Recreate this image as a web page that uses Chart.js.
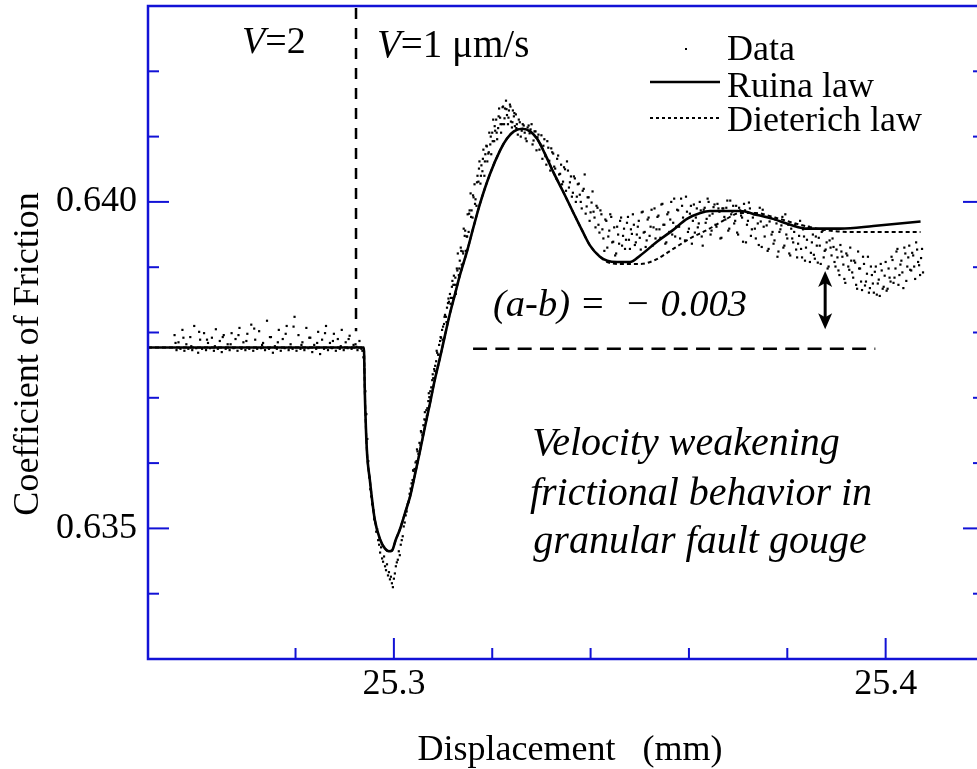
<!DOCTYPE html>
<html><head><meta charset="utf-8">
<script src="https://cdn.jsdelivr.net/npm/chart.js@4.4.1/dist/chart.umd.min.js"></script>
<style>html,body{margin:0;padding:0;background:#fff;overflow:hidden;}canvas{display:block;}</style>
</head><body>
<canvas id="c" width="990" height="769" style="width:990px;height:769px"></canvas>
<script>
// ---------- data ----------
const xLabeledTicks = [25.3, 25.4];
const yLabeledTicks = [0.640, 0.635];

const ruinaLaw = [[25.2500,0.63777],[25.2939,0.63777],[25.2941,0.63706],[25.2945,0.63621],[25.2951,0.63575],[25.2961,0.63514],[25.2972,0.63483],[25.2982,0.63469],[25.2990,0.63465],[25.2996,0.63466],[25.3004,0.63483],[25.3012,0.63498],[25.3022,0.63522],[25.3033,0.63549],[25.3043,0.63583],[25.3053,0.63618],[25.3063,0.63655],[25.3073,0.63690],[25.3083,0.63727],[25.3094,0.63762],[25.3104,0.63796],[25.3114,0.63829],[25.3124,0.63858],[25.3134,0.63887],[25.3149,0.63925],[25.3161,0.63959],[25.3175,0.63997],[25.3195,0.64042],[25.3216,0.64079],[25.3230,0.64097],[25.3244,0.64108],[25.3261,0.64112],[25.3277,0.64108],[25.3291,0.64097],[25.3307,0.64074],[25.3324,0.64046],[25.3344,0.64016],[25.3364,0.63985],[25.3383,0.63956],[25.3399,0.63933],[25.3419,0.63916],[25.3434,0.63910],[25.3454,0.63908],[25.3480,0.63908],[25.3501,0.63918],[25.3535,0.63939],[25.3566,0.63956],[25.3596,0.63974],[25.3623,0.63983],[25.3643,0.63986],[25.3704,0.63986],[25.3739,0.63980],[25.3771,0.63974],[25.3806,0.63965],[25.3841,0.63959],[25.3908,0.63959],[25.3975,0.63963],[25.4071,0.63970]];

const dieterichLaw = [[25.2500,0.63777],[25.2939,0.63777],[25.2941,0.63706],[25.2945,0.63621],[25.2951,0.63575],[25.2961,0.63514],[25.2972,0.63483],[25.2982,0.63469],[25.2990,0.63465],[25.2996,0.63466],[25.3004,0.63483],[25.3012,0.63498],[25.3022,0.63522],[25.3033,0.63549],[25.3043,0.63583],[25.3053,0.63618],[25.3063,0.63655],[25.3073,0.63690],[25.3083,0.63727],[25.3094,0.63762],[25.3104,0.63796],[25.3114,0.63829],[25.3124,0.63858],[25.3134,0.63887],[25.3149,0.63925],[25.3161,0.63959],[25.3175,0.63997],[25.3195,0.64042],[25.3216,0.64079],[25.3230,0.64097],[25.3244,0.64108],[25.3261,0.64112],[25.3277,0.64108],[25.3291,0.64097],[25.3307,0.64074],[25.3324,0.64046],[25.3344,0.64016],[25.3364,0.63985],[25.3383,0.63956],[25.3399,0.63933],[25.3419,0.63916],[25.3434,0.63908],[25.3460,0.63905],[25.3501,0.63905],[25.3531,0.63911],[25.3568,0.63928],[25.3602,0.63944],[25.3637,0.63957],[25.3674,0.63973],[25.3704,0.63983],[25.3735,0.63983],[25.3775,0.63976],[25.3826,0.63965],[25.3877,0.63957],[25.3928,0.63954],[25.4071,0.63954]];

const measuredData = [
[25.2554,0.63796],[25.2558,0.63773],[25.2562,0.63785],[25.2566,0.63775],[25.2570,0.63804],[25.2574,0.63772],[25.2578,0.63782],[25.2582,0.63775],[25.2586,0.63793],[25.2590,0.63773],
[25.2594,0.63810],[25.2598,0.63776],[25.2602,0.63769],[25.2606,0.63789],[25.2610,0.63775],[25.2614,0.63799],[25.2618,0.63773],[25.2622,0.63784],[25.2626,0.63776],[25.2630,0.63792],
[25.2634,0.63772],[25.2638,0.63805],[25.2642,0.63775],[25.2646,0.63787],[25.2650,0.63770],[25.2654,0.63796],[25.2658,0.63775],[25.2662,0.63782],[25.2666,0.63773],[25.2670,0.63799],
[25.2674,0.63776],[25.2678,0.63790],[25.2682,0.63772],[25.2686,0.63807],[25.2690,0.63775],[25.2694,0.63785],[25.2698,0.63773],[25.2702,0.63798],[25.2706,0.63775],[25.2710,0.63812],
[25.2714,0.63772],[25.2718,0.63789],[25.2722,0.63775],[25.2726,0.63802],[25.2730,0.63776],[25.2734,0.63784],[25.2738,0.63773],[25.2742,0.63818],[25.2746,0.63775],[25.2750,0.63793],
[25.2754,0.63769],[25.2758,0.63779],[25.2762,0.63775],[25.2766,0.63804],[25.2770,0.63772],[25.2774,0.63790],[25.2778,0.63776],[25.2782,0.63810],[25.2786,0.63773],[25.2790,0.63782],
[25.2794,0.63775],[25.2798,0.63824],[25.2802,0.63772],[25.2806,0.63796],[25.2810,0.63775],[25.2814,0.63785],[25.2818,0.63773],[25.2822,0.63807],[25.2826,0.63776],[25.2830,0.63792],
[25.2834,0.63770],[25.2838,0.63781],[25.2842,0.63775],[25.2846,0.63801],[25.2850,0.63767],[25.2854,0.63789],[25.2858,0.63775],[25.2862,0.63810],[25.2866,0.63773],[25.2870,0.63784],
[25.2874,0.63776],[25.2878,0.63798],[25.2882,0.63772],[25.2886,0.63790],[25.2890,0.63775],[25.2894,0.63804],[25.2898,0.63773],[25.2902,0.63785],[25.2906,0.63776],[25.2910,0.63795],
[25.2914,0.63775],[25.2918,0.63781],[25.2922,0.63782],[25.2926,0.63773],[25.2930,0.63787],[25.2934,0.63775],
[25.2556,0.63784],[25.2572,0.63792],[25.2588,0.63779],[25.2604,0.63801],[25.2620,0.63789],[25.2636,0.63779],[25.2652,0.63793],[25.2668,0.63782],[25.2684,0.63796],[25.2700,0.63787],
[25.2716,0.63806],[25.2732,0.63781],[25.2748,0.63793],[25.2764,0.63785],[25.2780,0.63798],[25.2796,0.63809],[25.2812,0.63781],[25.2828,0.63792],[25.2844,0.63784],[25.2860,0.63799],
[25.2876,0.63787],[25.2892,0.63779],[25.2908,0.63790],[25.2924,0.63778],
[25.2936,0.63772],[25.2938,0.63762],[25.2940,0.63744],[25.2942,0.63710],[25.2944,0.63675],[25.2946,0.63637],[25.2948,0.63603],[25.2950,0.63578],[25.2952,0.63560],[25.2954,0.63549],
[25.2956,0.63537],[25.2958,0.63528],[25.2960,0.63514],[25.2962,0.63509],[25.2964,0.63495],[25.2966,0.63499],[25.2968,0.63482],[25.2970,0.63475],[25.2972,0.63463],[25.2974,0.63471],
[25.2976,0.63454],[25.2978,0.63449],[25.2980,0.63457],[25.2982,0.63442],[25.2984,0.63436],[25.2986,0.63445],[25.2988,0.63428],[25.2990,0.63433],[25.2992,0.63422],[25.2994,0.63426],
[25.2996,0.63416],[25.2998,0.63410],[25.3000,0.63423],[25.3002,0.63431],[25.3004,0.63442],[25.3006,0.63448],[25.3008,0.63452],[25.3010,0.63465],[25.3012,0.63459],[25.3014,0.63475],
[25.3016,0.63482],[25.3018,0.63488],[25.3020,0.63503],[25.3022,0.63509],[25.3024,0.63520],[25.3026,0.63526],[25.3028,0.63537],[25.3030,0.63541],[25.3032,0.63553],[25.3034,0.63561],
[25.3036,0.63569],[25.3038,0.63574],[25.3040,0.63588],[25.3042,0.63591],[25.3044,0.63601],[25.3046,0.63603],[25.3048,0.63618],[25.3050,0.63614],[25.3052,0.63631],[25.3054,0.63628],
[25.3056,0.63647],[25.3058,0.63643],[25.3060,0.63658],[25.3062,0.63667],[25.3064,0.63666],[25.3066,0.63681],[25.3068,0.63684],[25.3070,0.63695],[25.3072,0.63701],[25.3074,0.63710],
[25.3076,0.63716],[25.3078,0.63727],[25.3080,0.63730],[25.3082,0.63744],[25.3084,0.63749],[25.3086,0.63756],[25.3088,0.63769],[25.3090,0.63766],[25.3092,0.63781],[25.3094,0.63787],
[25.3096,0.63792],[25.3098,0.63804],[25.3100,0.63809],[25.3102,0.63813],[25.3104,0.63827],[25.3106,0.63824],[25.3108,0.63838],[25.3110,0.63845],[25.3112,0.63847],[25.3114,0.63859],
[25.3116,0.63853],[25.3118,0.63870],
[25.3035,0.63560],[25.3039,0.63589],[25.3043,0.63585],[25.3047,0.63621],[25.3051,0.63614],[25.3055,0.63649],[25.3059,0.63641],[25.3063,0.63678],[25.3067,0.63672],[25.3071,0.63707],
[25.3075,0.63700],[25.3079,0.63736],[25.3083,0.63741],[25.3087,0.63772],[25.3091,0.63766],[25.3095,0.63793],[25.3099,0.63789],[25.3103,0.63824],[25.3107,0.63816],[25.3111,0.63852],
[25.3115,0.63844],[25.3119,0.63879],
[25.3120,0.63853],[25.3122,0.63887],[25.3124,0.63873],[25.3126,0.63859],[25.3128,0.63898],[25.3130,0.63921],[25.3132,0.63888],[25.3134,0.63910],
[25.3136,0.63930],[25.3138,0.63904],[25.3140,0.63924],[25.3142,0.63959],[25.3144,0.63948],[25.3146,0.63925],[25.3148,0.63947],[25.3150,0.63981],[25.3152,0.63954],[25.3154,0.63987],
[25.3156,0.64013],[25.3158,0.63987],[25.3160,0.63976],[25.3162,0.64007],[25.3164,0.64027],[25.3166,0.64004],[25.3168,0.63994],[25.3170,0.64040],[25.3172,0.64031],[25.3174,0.64062],
[25.3176,0.64028],[25.3178,0.64056],[25.3180,0.64047],[25.3182,0.64080],[25.3184,0.64040],[25.3186,0.64073],[25.3188,0.64086],[25.3190,0.64062],[25.3192,0.64074],[25.3194,0.64106],
[25.3196,0.64088],[25.3198,0.64073],[25.3200,0.64106],[25.3202,0.64126],[25.3204,0.64093],[25.3206,0.64109],[25.3208,0.64126],[25.3210,0.64096],[25.3212,0.64113],[25.3214,0.64143],
[25.3216,0.64129],[25.3218,0.64106],[25.3220,0.64119],[25.3222,0.64146],[25.3224,0.64119],[25.3226,0.64143],[25.3228,0.64155],[25.3230,0.64133],[25.3232,0.64119],[25.3234,0.64140],
[25.3236,0.64149],[25.3238,0.64123],[25.3240,0.64114],[25.3242,0.64140],[25.3244,0.64131],[25.3246,0.64116],[25.3248,0.64134],[25.3250,0.64119],
[25.3121,0.63873],[25.3125,0.63884],[25.3129,0.63895],[25.3133,0.63898],[25.3137,0.63925],[25.3141,0.63921],[25.3145,0.63956],[25.3149,0.63947],[25.3153,0.63982],[25.3157,0.63977],
[25.3161,0.64010],[25.3165,0.63997],[25.3169,0.64030],[25.3173,0.64051],[25.3177,0.64040],[25.3181,0.64066],[25.3185,0.64062],[25.3189,0.64085],[25.3193,0.64076],[25.3197,0.64100],
[25.3201,0.64093],[25.3205,0.64116],[25.3209,0.64106],[25.3213,0.64131],[25.3217,0.64119],[25.3221,0.64145],[25.3225,0.64128],[25.3229,0.64142],[25.3233,0.64129],[25.3237,0.64146],
[25.3241,0.64122],[25.3245,0.64136],[25.3249,0.64113],
[25.3252,0.64103],[25.3256,0.64122],[25.3260,0.64109],[25.3264,0.64117],[25.3268,0.64097],[25.3272,0.64114],[25.3276,0.64105],[25.3280,0.64119],[25.3284,0.64094],[25.3288,0.64108],
[25.3292,0.64099],[25.3296,0.64080],[25.3300,0.64102],[25.3304,0.64086],[25.3308,0.64070],[25.3312,0.64093],[25.3316,0.64063],[25.3320,0.64082],[25.3324,0.64074],[25.3328,0.64051],
[25.3332,0.64066],[25.3336,0.64042],[25.3340,0.64057],[25.3344,0.64031],[25.3348,0.64050],[25.3352,0.64062],[25.3356,0.64022],[25.3360,0.64039],[25.3364,0.64014],[25.3368,0.64036],
[25.3372,0.64008],[25.3376,0.64028],[25.3380,0.64000],[25.3384,0.64017],[25.3388,0.64042],[25.3392,0.63993],[25.3396,0.64007],[25.3400,0.63984],[25.3404,0.64016],[25.3408,0.63976],
[25.3412,0.63994],[25.3416,0.63965],[25.3420,0.63987],[25.3424,0.63958],[25.3428,0.63925],[25.3432,0.63971],[25.3436,0.63947],[25.3440,0.63981],[25.3444,0.63938],[25.3448,0.63961],
[25.3452,0.63921],[25.3456,0.63950],[25.3460,0.63971],[25.3464,0.63933],[25.3468,0.63959],[25.3472,0.63942],[25.3476,0.63977],[25.3480,0.63928],[25.3484,0.63951],[25.3488,0.63965],
[25.3492,0.63938],[25.3496,0.63962],[25.3500,0.63945],[25.3504,0.63984],[25.3508,0.63953],[25.3512,0.63931],[25.3516,0.63973],[25.3520,0.63948],[25.3524,0.63988],[25.3528,0.63961],
[25.3532,0.63944],[25.3536,0.63977],[25.3540,0.63958],[25.3544,0.63996],[25.3548,0.63965],[25.3552,0.63936],[25.3556,0.63981],[25.3560,0.63954],[25.3564,0.64000],[25.3568,0.63968],
[25.3572,0.63947],[25.3576,0.63988],[25.3580,0.63962],[25.3584,0.64005],[25.3588,0.63976],[25.3592,0.63941],[25.3596,0.63985],[25.3600,0.63959],[25.3604,0.63994],[25.3608,0.63971],
[25.3612,0.63953],[25.3616,0.63990],[25.3620,0.63967],[25.3624,0.63987],[25.3628,0.63933],[25.3632,0.63991],[25.3636,0.63974],[25.3640,0.64000],[25.3644,0.63950],[25.3648,0.63982],
[25.3652,0.63996],[25.3656,0.63962],[25.3660,0.63990],[25.3664,0.63944],[25.3668,0.63990],[25.3672,0.63977],[25.3676,0.63991],[25.3680,0.63956],[25.3684,0.64002],[25.3688,0.63985],
[25.3692,0.63967],[25.3696,0.63994],[25.3700,0.63950],[25.3704,0.63987],[25.3708,0.63976],[25.3712,0.63997],[25.3716,0.63938],[25.3720,0.63971],[25.3724,0.63990],[25.3728,0.63958],
[25.3732,0.63981],[25.3736,0.63944],[25.3740,0.63967],[25.3744,0.63991],[25.3748,0.63931],[25.3752,0.63962],[25.3756,0.63977],[25.3760,0.63925],[25.3764,0.63970],[25.3768,0.63950],
[25.3772,0.63936],[25.3776,0.63973],[25.3780,0.63916],[25.3784,0.63954],[25.3788,0.63964],[25.3792,0.63930],[25.3796,0.63981],[25.3800,0.63944],[25.3804,0.63921],[25.3808,0.63959],
[25.3812,0.63938],[25.3816,0.63965],[25.3820,0.63915],[25.3824,0.63948],[25.3828,0.63928],[25.3832,0.63958],[25.3836,0.63910],[25.3840,0.63942],[25.3844,0.63962],[25.3848,0.63922],
[25.3852,0.63950],[25.3856,0.63913],[25.3860,0.63933],[25.3864,0.63945],[25.3868,0.63905],[25.3872,0.63956],[25.3876,0.63925],[25.3880,0.63938],[25.3884,0.63901],[25.3888,0.63930],
[25.3892,0.63944],[25.3896,0.63908],[25.3900,0.63927],[25.3904,0.63895],[25.3908,0.63934],[25.3912,0.63916],[25.3916,0.63882],[25.3920,0.63921],[25.3924,0.63901],[25.3928,0.63930],
[25.3932,0.63892],[25.3936,0.63910],[25.3940,0.63873],[25.3944,0.63924],[25.3948,0.63898],[25.3952,0.63865],[25.3956,0.63905],[25.3960,0.63878],[25.3964,0.63916],[25.3968,0.63868],
[25.3972,0.63888],[25.3976,0.63861],[25.3980,0.63901],[25.3984,0.63875],[25.3988,0.63856],[25.3992,0.63895],[25.3996,0.63870],[25.4000,0.63908],[25.4004,0.63867],[25.4008,0.63884],
[25.4012,0.63916],[25.4016,0.63876],[25.4020,0.63898],[25.4024,0.63928],[25.4028,0.63888],[25.4032,0.63910],[25.4036,0.63868],[25.4040,0.63921],[25.4044,0.63901],[25.4048,0.63933],
[25.4052,0.63895],[25.4056,0.63918],[25.4060,0.63882],[25.4064,0.63927],[25.4068,0.63903],[25.4072,0.63914],[25.4076,0.63892],
[25.3254,0.64126],[25.3258,0.64100],[25.3262,0.64119],[25.3266,0.64106],[25.3270,0.64093],[25.3274,0.64117],[25.3278,0.64111],[25.3282,0.64088],[25.3286,0.64108],[25.3290,0.64079],
[25.3294,0.64103],[25.3298,0.64088],[25.3302,0.64066],[25.3306,0.64096],[25.3310,0.64057],[25.3314,0.64083],[25.3318,0.64048],[25.3322,0.64076],[25.3326,0.64054],[25.3330,0.64036],
[25.3334,0.64071],[25.3338,0.64043],[25.3342,0.64027],[25.3346,0.64053],[25.3350,0.64017],[25.3354,0.64048],[25.3358,0.64030],[25.3362,0.64008],[25.3366,0.64039],[25.3370,0.64000],
[25.3374,0.64027],[25.3378,0.64011],[25.3382,0.63990],[25.3386,0.64020],[25.3390,0.63982],[25.3394,0.64007],[25.3398,0.63971],[25.3402,0.63999],[25.3406,0.63985],[25.3410,0.63961],
[25.3414,0.63991],[25.3418,0.63953],[25.3422,0.63981],[25.3426,0.63944],[25.3430,0.63973],[25.3434,0.63930],[25.3438,0.63956],[25.3442,0.63977],[25.3446,0.63939],[25.3450,0.63918],
[25.3454,0.63962],[25.3458,0.63936],[25.3462,0.63976],[25.3466,0.63948],[25.3470,0.63928],[25.3474,0.63968],[25.3478,0.63942],[25.3482,0.63958],[25.3486,0.63981],[25.3490,0.63934],
[25.3494,0.63950],[25.3498,0.63971],[25.3502,0.63927],[25.3506,0.63985],[25.3510,0.63954],[25.3514,0.63941],[25.3518,0.63976],[25.3522,0.63962],[25.3526,0.63933],[25.3530,0.63990],
[25.3534,0.63958],[25.3538,0.63979],[25.3542,0.63945],[25.3546,0.63997],[25.3550,0.63965],[25.3554,0.63938],[25.3558,0.63984],[25.3562,0.63973],[25.3566,0.63950],[25.3570,0.64005],
[25.3574,0.63962],[25.3578,0.63987],[25.3582,0.63944],[25.3586,0.63994],[25.3590,0.63971],[25.3594,0.64008],[25.3598,0.63954],[25.3602,0.63982],[25.3606,0.63936],[25.3610,0.63996],
[25.3614,0.63976],[25.3618,0.63961],[25.3622,0.64000],[25.3626,0.63947],[25.3630,0.63988],[25.3634,0.63968],[25.3638,0.64005],[25.3642,0.63979],[25.3646,0.63956],[25.3650,0.63992],
[25.3654,0.63965],[25.3658,0.63997],[25.3662,0.63985],[25.3666,0.63945],[25.3670,0.63990],[25.3674,0.63973],[25.3678,0.64002],[25.3682,0.63959],[25.3686,0.63981],[25.3690,0.63994],
[25.3694,0.63971],[25.3698,0.63953],[25.3702,0.63991],[25.3706,0.63979],[25.3710,0.63939],[25.3714,0.63987],[25.3718,0.63965],[25.3722,0.63999],[25.3726,0.63948],[25.3730,0.63976],
[25.3734,0.63959],[25.3738,0.63982],[25.3742,0.63934],[25.3746,0.63970],[25.3750,0.63988],[25.3754,0.63947],[25.3758,0.63964],[25.3762,0.63928],[25.3766,0.63976],[25.3770,0.63954],
[25.3774,0.63941],[25.3778,0.63967],[25.3782,0.63924],[25.3786,0.63958],[25.3790,0.63977],[25.3794,0.63933],[25.3798,0.63950],[25.3802,0.63965],[25.3806,0.63918],[25.3810,0.63944],
[25.3814,0.63954],[25.3818,0.63927],[25.3822,0.63936],[25.3826,0.63971],[25.3830,0.63915],[25.3834,0.63947],[25.3838,0.63930],[25.3842,0.63959],[25.3846,0.63908],[25.3850,0.63938],
[25.3854,0.63919],[25.3858,0.63947],[25.3862,0.63907],[25.3866,0.63933],[25.3870,0.63954],[25.3874,0.63915],[25.3878,0.63927],[25.3882,0.63898],[25.3886,0.63941],[25.3890,0.63918],
[25.3894,0.63931],[25.3898,0.63901],[25.3902,0.63915],[25.3906,0.63888],[25.3910,0.63924],[25.3914,0.63904],[25.3918,0.63876],[25.3922,0.63918],[25.3926,0.63896],[25.3930,0.63910],
[25.3934,0.63884],[25.3938,0.63907],[25.3942,0.63867],[25.3946,0.63898],[25.3950,0.63878],[25.3954,0.63916],[25.3958,0.63872],[25.3962,0.63890],[25.3966,0.63861],[25.3970,0.63901],
[25.3974,0.63875],[25.3978,0.63893],[25.3982,0.63858],[25.3986,0.63881],[25.3990,0.63905],[25.3994,0.63867],[25.3998,0.63887],[25.4002,0.63864],[25.4006,0.63898],[25.4010,0.63878],
[25.4014,0.63911],[25.4018,0.63884],[25.4022,0.63924],[25.4026,0.63873],[25.4030,0.63904],[25.4034,0.63892],[25.4038,0.63930],[25.4042,0.63879],[25.4046,0.63915],[25.4050,0.63896],
[25.4054,0.63922],[25.4058,0.63901],[25.4062,0.63938],[25.4066,0.63908],[25.4070,0.63888],[25.4074,0.63928]
];

// annotation anchors (data units)
const velocityStepX = 25.2923, velocityStepLineEnd = 0.63802;
const steadyLevel = 0.63775, steadyFrom = 25.3161, steadyTo = 25.3979;
const arrowX = 25.3877, arrowTop = 0.63894, arrowBottom = 0.63805;

// ---------- styles ----------
const AXIS = 'rgb(18,18,214)';
const SERIF = '"Liberation Serif","Times New Roman",serif';
const near = (a, b) => Math.abs(a - b) < 1e-7;

function txt(ctx, parts, x, y, size, align) {
  ctx.textBaseline = 'alphabetic';
  let w = 0;
  parts.forEach(p => { ctx.font = (p[1] ? 'italic ' : '') + size + 'px ' + SERIF; w += ctx.measureText(p[0]).width; });
  let cx = align === 'center' ? x - w / 2 : x;
  ctx.textAlign = 'left';
  parts.forEach(p => { ctx.font = (p[1] ? 'italic ' : '') + size + 'px ' + SERIF; ctx.fillText(p[0], cx, y); cx += ctx.measureText(p[0]).width; });
}

const decor = {
  id: 'decor',
  afterDraw(chart) {
    const { ctx, chartArea: a, scales: { x, y } } = chart;
    ctx.save();
    ctx.strokeStyle = AXIS; ctx.lineWidth = 2.5;
    ctx.beginPath();
    ctx.moveTo(a.right, a.top); ctx.lineTo(a.left, a.top); ctx.lineTo(a.left, a.bottom); ctx.lineTo(a.right, a.bottom);
    ctx.stroke();
    ctx.lineWidth = 2;
    x.ticks.forEach(t => {
      if (t.value <= x.min + 1e-9 || t.value >= x.max - 1e-9) return;
      const px = x.getPixelForValue(t.value);
      const len = xLabeledTicks.some(v => near(v, t.value)) ? 21 : 11;
      ctx.beginPath(); ctx.moveTo(px, a.bottom); ctx.lineTo(px, a.bottom - len); ctx.stroke();
    });
    y.ticks.forEach(t => {
      if (t.value <= y.min + 1e-9 || t.value >= y.max - 1e-9) return;
      const py = y.getPixelForValue(t.value);
      const len = yLabeledTicks.some(v => near(v, t.value)) ? 21 : 11;
      ctx.beginPath(); ctx.moveTo(a.left, py); ctx.lineTo(a.left + len, py); ctx.stroke();
      ctx.beginPath(); ctx.moveTo(a.right, py); ctx.lineTo(a.right - len, py); ctx.stroke();
    });

    ctx.fillStyle = '#000'; ctx.strokeStyle = '#000';
    ctx.save();
    ctx.translate(29, 354); ctx.rotate(-Math.PI / 2);
    ctx.font = '36px ' + SERIF; ctx.textAlign = 'center'; ctx.textBaseline = 'middle';
    ctx.fillText('Coefficient of Friction', 0, 0);
    ctx.restore();
    txt(ctx, [['Displacement   (mm)', false]], 570, 760, 36, 'center');

    ctx.lineWidth = 2.5; ctx.setLineDash([11, 9]);
    const sx = x.getPixelForValue(velocityStepX);
    ctx.beginPath(); ctx.moveTo(sx, a.top + 2); ctx.lineTo(sx, y.getPixelForValue(velocityStepLineEnd)); ctx.stroke();
    const ly = y.getPixelForValue(steadyLevel);
    ctx.setLineDash([14, 8.3]);
    ctx.beginPath(); ctx.moveTo(x.getPixelForValue(steadyFrom), ly); ctx.lineTo(x.getPixelForValue(steadyTo), ly); ctx.stroke();
    ctx.setLineDash([]);
    const ax = x.getPixelForValue(arrowX), at = y.getPixelForValue(arrowTop), ab = y.getPixelForValue(arrowBottom);
    ctx.lineWidth = 3;
    ctx.beginPath(); ctx.moveTo(ax, at + 10); ctx.lineTo(ax, ab - 10); ctx.stroke();
    ctx.beginPath(); ctx.moveTo(ax, at); ctx.lineTo(ax - 7, at + 16); ctx.lineTo(ax, at + 12); ctx.lineTo(ax + 7, at + 16); ctx.closePath(); ctx.fill();
    ctx.beginPath(); ctx.moveTo(ax, ab); ctx.lineTo(ax - 7, ab - 16); ctx.lineTo(ax, ab - 12); ctx.lineTo(ax + 7, ab - 16); ctx.closePath(); ctx.fill();

    txt(ctx, [['V', true], ['=2', false]], 242, 53, 38, 'left');
    txt(ctx, [['V', true], ['=1 \u03bcm/s', false]], 377, 57, 39, 'left');
    txt(ctx, [['(a-b) =  \u2212 0.003', true]], 493, 316, 38.5, 'left');

    txt(ctx, [['Velocity weakening', true]], 686, 455, 40, 'center');
    txt(ctx, [['frictional behavior in', true]], 701, 505, 40, 'center');
    txt(ctx, [['granular fault gouge', true]], 700, 553, 40, 'center');

    ctx.fillRect(685, 48, 2, 2);
    txt(ctx, [['Data', false]], 727, 60, 36, 'left');
    ctx.lineWidth = 2.5;
    ctx.beginPath(); ctx.moveTo(650, 82); ctx.lineTo(720, 82); ctx.stroke();
    txt(ctx, [['Ruina law', false]], 727, 97, 36, 'left');
    ctx.lineWidth = 2; ctx.setLineDash([3, 3]);
    ctx.beginPath(); ctx.moveTo(650, 118); ctx.lineTo(719, 118); ctx.stroke();
    ctx.setLineDash([]);
    txt(ctx, [['Dieterich law', false]], 727, 131, 36, 'left');
    ctx.restore();
  }
};

new Chart(document.getElementById('c'), {
  type: 'scatter',
  data: {
    datasets: [
      { label: 'Ruina law', data: ruinaLaw.map(p => ({ x: p[0], y: p[1] })), showLine: true, borderColor: '#000', borderWidth: 2.6, pointRadius: 0, cubicInterpolationMode: 'monotone', fill: false },
      { label: 'Dieterich law', data: dieterichLaw.map(p => ({ x: p[0], y: p[1] })), showLine: true, borderColor: '#000', borderWidth: 2, borderDash: [4, 3], pointRadius: 0, cubicInterpolationMode: 'monotone', fill: false },
      { label: 'Data', data: measuredData.map(p => ({ x: p[0], y: p[1] })), showLine: false, pointStyle: 'rect', pointRadius: 1.55, pointBorderWidth: 0, backgroundColor: '#000', borderColor: '#000' }
    ]
  },
  options: {
    responsive: false, animation: false, devicePixelRatio: 1,
    layout: { padding: { left: 0, right: 6, top: 6, bottom: 0 } },
    plugins: { legend: { display: false }, tooltip: { enabled: false } },
    scales: {
      x: {
        type: 'linear', min: 25.25, max: 25.42,
        grid: { display: false }, border: { display: false },
        ticks: { stepSize: 0.02, autoSkip: false, maxRotation: 0, padding: -4, color: '#000', font: { family: SERIF, size: 36 },
          callback: v => xLabeledTicks.some(t => near(t, v)) ? v.toFixed(1) : '' },
        afterFit: s => { s.height = 110; s.paddingLeft = 0; s.paddingRight = 0; }
      },
      y: {
        type: 'linear', min: 0.633, max: 0.643,
        grid: { display: false }, border: { display: false },
        ticks: { stepSize: 0.001, autoSkip: false, padding: 3, color: '#000', font: { family: SERIF, size: 36 },
          callback: v => yLabeledTicks.some(t => near(t, v)) ? v.toFixed(3) : '' },
        afterFit: s => { s.width = 148; s.paddingTop = 0; s.paddingBottom = 0; }
      }
    }
  },
  plugins: [decor]
});
</script>
</body></html>
